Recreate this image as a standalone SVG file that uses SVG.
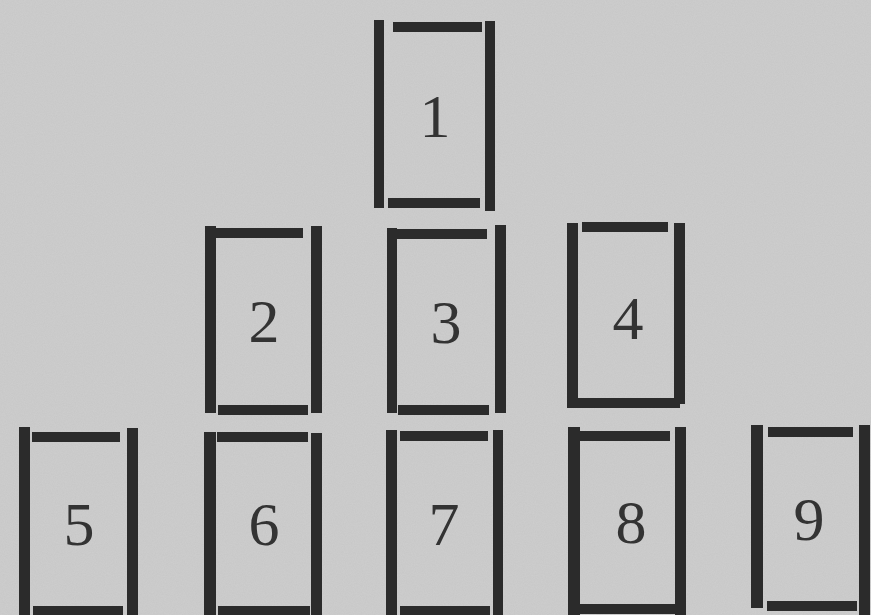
<svg xmlns="http://www.w3.org/2000/svg" width="871" height="615" viewBox="0 0 871 615">
<defs>
<filter id="grain" x="0" y="0" width="100%" height="100%">
<feTurbulence type="fractalNoise" baseFrequency="0.9" numOctaves="2" seed="3" result="n"/>
<feColorMatrix in="n" type="matrix" values="0 0 0 0 0.5  0 0 0 0 0.5  0 0 0 0 0.5  0 0 0 -1.2 1.0" result="g"/>
<feComposite in="g" in2="SourceGraphic" operator="in"/>
</filter>
<style>
.bar{fill:#2b2b2b}
.num{font-family:"Liberation Serif","DejaVu Serif",serif;font-size:62px;fill:#333;text-anchor:middle}
</style>
</defs>
<rect width="871" height="615" fill="#cdcdcd"/>
<rect width="871" height="615" fill="#cdcdcd" filter="url(#grain)" opacity="0.35"/>
<g id="card1">
<rect class="bar" x="374" y="20" width="10" height="188"/>
<rect class="bar" x="485" y="21" width="10" height="190"/>
<rect class="bar" x="393" y="22" width="89" height="10"/>
<rect class="bar" x="388" y="198" width="92" height="10"/>
<text class="num" x="435" y="137">1</text>
</g>
<g id="card2">
<rect class="bar" x="205" y="226" width="11" height="187"/>
<rect class="bar" x="311" y="226" width="11" height="187"/>
<rect class="bar" x="214" y="228" width="89" height="10"/>
<rect class="bar" x="218" y="405" width="90" height="10"/>
<text class="num" x="264" y="342">2</text>
</g>
<g id="card3">
<rect class="bar" x="387" y="228" width="10" height="185"/>
<rect class="bar" x="495" y="225" width="11" height="188"/>
<rect class="bar" x="389" y="229" width="98" height="10"/>
<rect class="bar" x="398" y="405" width="91" height="10"/>
<text class="num" x="446" y="343">3</text>
</g>
<g id="card4">
<rect class="bar" x="567" y="223" width="11" height="185"/>
<rect class="bar" x="674" y="223" width="11" height="181"/>
<rect class="bar" x="582" y="222" width="86" height="10"/>
<rect class="bar" x="578" y="398" width="102" height="10"/>
<text class="num" x="628" y="339">4</text>
</g>
<g id="card5">
<rect class="bar" x="19" y="427" width="11" height="188"/>
<rect class="bar" x="127" y="428" width="11" height="187"/>
<rect class="bar" x="32" y="432" width="88" height="10"/>
<rect class="bar" x="33" y="606" width="90" height="10"/>
<text class="num" x="79" y="545">5</text>
</g>
<g id="card6">
<rect class="bar" x="204" y="432" width="12" height="183"/>
<rect class="bar" x="311" y="433" width="11" height="182"/>
<rect class="bar" x="217" y="432" width="91" height="10"/>
<rect class="bar" x="218" y="606" width="92" height="10"/>
<text class="num" x="264" y="545">6</text>
</g>
<g id="card7">
<rect class="bar" x="386" y="430" width="11" height="185"/>
<rect class="bar" x="493" y="430" width="10" height="185"/>
<rect class="bar" x="400" y="431" width="88" height="10"/>
<rect class="bar" x="400" y="606" width="90" height="10"/>
<text class="num" x="444" y="545">7</text>
</g>
<g id="card8">
<rect class="bar" x="568" y="427" width="12" height="188"/>
<rect class="bar" x="675" y="427" width="11" height="188"/>
<rect class="bar" x="577" y="431" width="93" height="10"/>
<rect class="bar" x="577" y="604" width="103" height="10"/>
<text class="num" x="631" y="543">8</text>
</g>
<g id="card9">
<rect class="bar" x="751" y="425" width="12" height="183"/>
<rect class="bar" x="859" y="425" width="11" height="190"/>
<rect class="bar" x="768" y="427" width="85" height="10"/>
<rect class="bar" x="767" y="601" width="90" height="10"/>
<text class="num" x="809" y="540">9</text>
</g>
<g id="connectors"/>
</svg>
